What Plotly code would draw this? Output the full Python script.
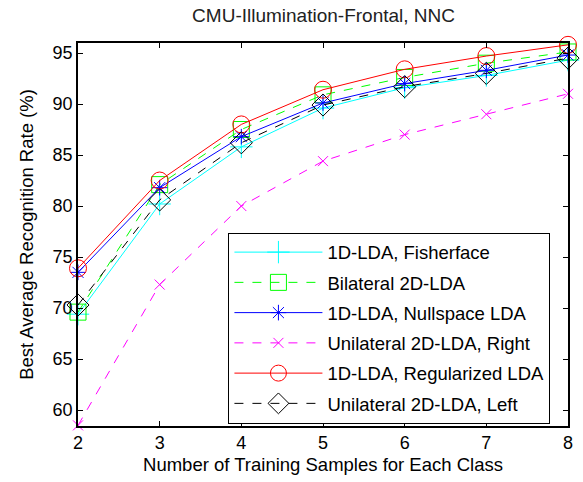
import plotly.graph_objects as go

# Number of training samples per class
samples = [2, 3, 4, 5, 6, 7, 8]

# Best average recognition rate (%) for each method
fisherface = [69.4, 80.2, 85.8, 89.6, 91.6, 92.8, 94.3]
bilateral_2d = [69.6, 82.1, 87.5, 90.9, 92.6, 94.0, 95.1]
nullspace = [73.5, 81.8, 86.8, 90.1, 92.0, 93.3, 94.8]
unilateral_right = [58.5, 72.3, 80.0, 84.4, 87.0, 89.0, 91.0]
regularized = [73.9, 82.5, 88.0, 91.4, 93.4, 94.7, 95.8]
unilateral_left = [70.3, 80.6, 86.2, 89.9, 91.7, 93.0, 94.5]

series = [
    ("1D-LDA, Fisherface", fisherface, "#00ffff", "solid", "cross-thin-open", 16),
    ("Bilateral 2D-LDA", bilateral_2d, "#00ff00", "dash", "square-open", 16),
    ("1D-LDA, Nullspace LDA", nullspace, "#0000ff", "solid", "asterisk-open", 13),
    ("Unilateral 2D-LDA, Right", unilateral_right, "#ff00ff", "dash", "x-thin-open", 10),
    ("1D-LDA, Regularized LDA", regularized, "#ff0000", "solid", "circle-open", 17),
    ("Unilateral 2D-LDA, Left", unilateral_left, "#000000", "dash", "diamond-open", 17),
]

fig = go.Figure()
for i, (name, vals, color, dash, symbol, size) in enumerate(series):
    fig.add_trace(go.Scatter(
        x=samples, y=vals, name=name, mode="lines+markers",
        legendgroup=f"g{i}",
        line=dict(color=color, width=1, dash=dash),
        marker=dict(symbol=symbol, size=size, color=color,
                    line=dict(color=color, width=1)),
        cliponaxis=False,
    ))

axis_style = dict(
    showline=True, linecolor="black", linewidth=1.5, mirror="ticks",
    ticks="inside", ticklen=5, tickcolor="black", showgrid=False,
    zeroline=False, tickfont=dict(size=18, color="black"),
)

fig.update_layout(
    width=583, height=482,
    margin=dict(l=78, r=10, t=43, b=55),
    paper_bgcolor="white", plot_bgcolor="white",
    font=dict(family="Liberation Sans, Arial, sans-serif", size=18, color="black"),
    title=dict(text="CMU-Illumination-Frontal, NNC", x=0.555, xanchor="center",
               y=0.968, yanchor="middle", font=dict(size=19, color="#222")),
    xaxis=dict(range=[2, 8], dtick=1,
               title=dict(text="Number of Training Samples for Each Class",
                          font=dict(size=18.5), standoff=6),
               **axis_style),
    yaxis=dict(range=[58.44, 95.98], dtick=5, tick0=60,
               title=dict(text="Best Average Recognition Rate (%)",
                          font=dict(size=18.5), standoff=14),
               **axis_style),
    legend=dict(x=0.307, y=0.505, xanchor="left", yanchor="top",
                bgcolor="white", bordercolor="black", borderwidth=1,
                font=dict(size=18.5), itemwidth=88, tracegroupgap=3.2,
                traceorder="grouped"),
    showlegend=True,
)

fig.write_html("out.html")
